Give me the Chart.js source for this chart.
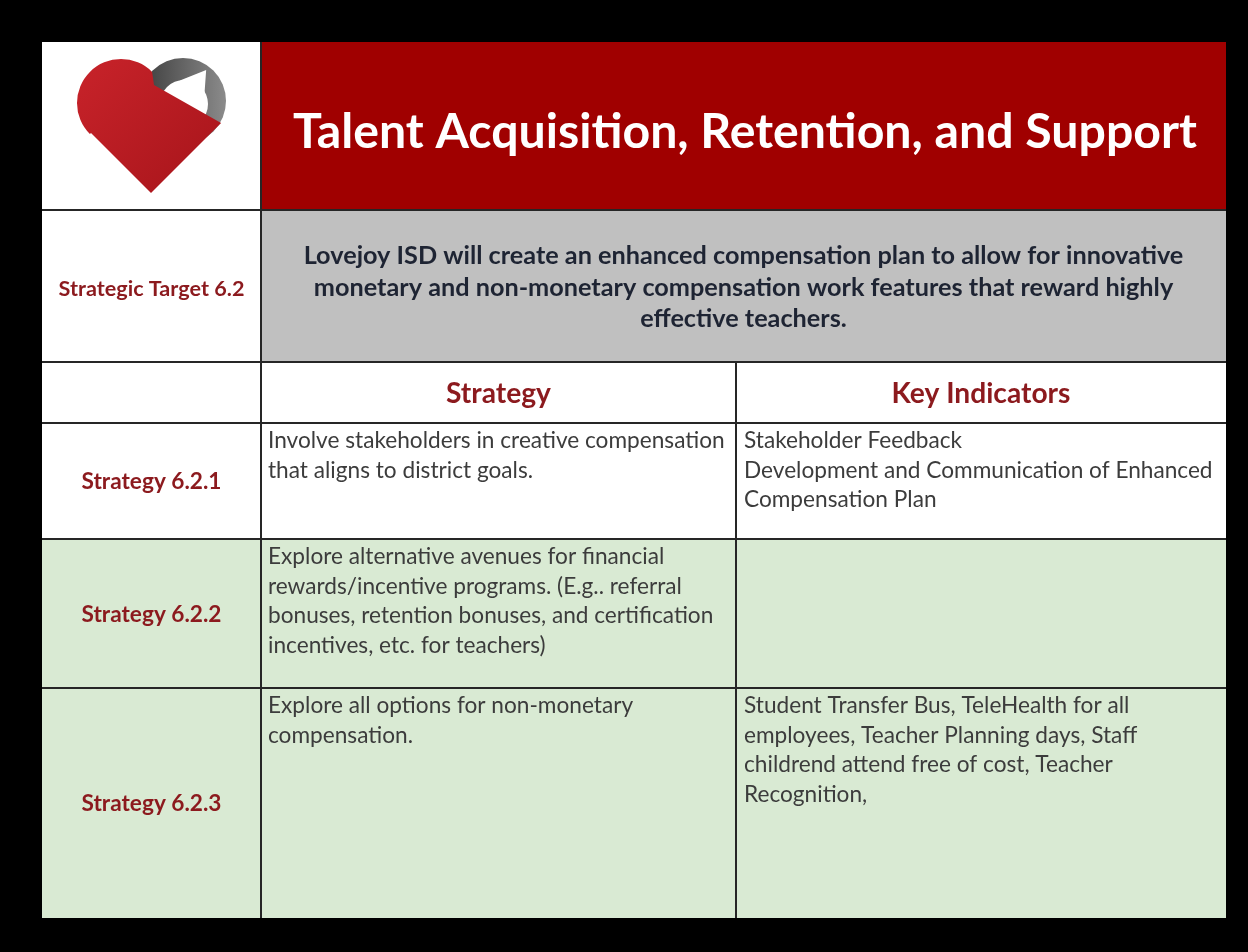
<!DOCTYPE html>
<html>
<head>
<meta charset="utf-8">
<title>Talent Acquisition, Retention, and Support</title>
<script src="https://cdn.jsdelivr.net/npm/chart.js@4.4.1/dist/chart.umd.min.js"></script>
<style>
    html, body { margin: 0; padding: 0; background: #000; }
    #board { display: block; }
</style>
</head>
<body>
<canvas id="board" width="1248" height="952"></canvas>
<script>
// table content
const title = "Talent Acquisition, Retention, and Support";
const targetLabel = "Strategic Target 6.2";
const targetText = [
    "Lovejoy ISD will create an enhanced compensation plan to allow for innovative",
    "monetary and non-monetary compensation work features that reward highly",
    "effective teachers."
];
const columnHeads = ["Strategy", "Key Indicators"];
const strategyIds = ["Strategy 6.2.1", "Strategy 6.2.2", "Strategy 6.2.3"];
const strategyText = [
    ["Involve stakeholders in creative compensation", "that aligns to district goals."],
    ["Explore alternative avenues for financial", "rewards/incentive programs. (E.g.. referral",
     "bonuses, retention bonuses, and certification", "incentives, etc. for teachers)"],
    ["Explore all options for non-monetary", "compensation."]
];
const indicatorText = [
    ["Stakeholder Feedback", "Development and Communication of Enhanced", "Compensation Plan"],
    [],
    ["Student Transfer Bus, TeleHealth for all", "employees, Teacher Planning days, Staff",
     "childrend attend free of cost, Teacher", "Recognition,"]
];

// layout (pixels) and colours
const colEdges = [42, 261, 736, 1226];
const rowEdges = [42, 210, 362, 423, 539, 688, 918];
const strategyFills = ["#ffffff", "#d9ead3", "#d9ead3"];
const RED = "#a00000";
const GREY = "#c0c0c0";
const DARK_RED = "#8c1a1e";
const BODY = "#3c3c3c";
const FONT = "Lato, 'Open Sans', sans-serif";
const LINE = 29.5;

function fitSize(ctx, text, weight, width){
    ctx.font = weight + " 100px " + FONT;
    return 100 * width / ctx.measureText(text).width;
}

function drawLogo(ctx, cx, tipY){
    var d = 60, r = 44;
    var lc = {x: cx - d/2, y: tipY - 1.5*d};
    var rc = {x: cx + d/2 + 2, y: tipY - 1.5*d - 2};

    // grey ring on the right lobe
    var g = ctx.createLinearGradient(rc.x - r, rc.y, rc.x + r, rc.y);
    g.addColorStop(0, "#3c3c3c");
    g.addColorStop(1, "#8c8c8c");
    ctx.fillStyle = g;
    ctx.beginPath();
    ctx.arc(rc.x, rc.y, r - 1, 0, Math.PI*2);
    ctx.fill();
    ctx.fillStyle = "#ffffff";
    ctx.beginPath();
    ctx.arc(rc.x + 1, rc.y + 3, 24, 0, Math.PI*2);
    ctx.fill();

    // white arrow pointing up-right, cutting through the ring
    ctx.save();
    ctx.translate(rc.x + 2, rc.y - 2);
    ctx.rotate(Math.PI/5);
    ctx.beginPath();
    ctx.moveTo(0, -36);
    ctx.lineTo(15, -12);
    ctx.lineTo(6, -12);
    ctx.lineTo(6, 24);
    ctx.lineTo(-6, 24);
    ctx.lineTo(-6, -12);
    ctx.lineTo(-15, -12);
    ctx.closePath();
    ctx.fillStyle = "#ffffff";
    ctx.fill();
    ctx.restore();

    // red body of the heart
    var rg = ctx.createLinearGradient(lc.x - r, lc.y - r, cx + d, tipY);
    rg.addColorStop(0, "#c8232a");
    rg.addColorStop(1, "#a8151b");
    ctx.fillStyle = rg;
    ctx.beginPath();
    ctx.moveTo(cx, tipY);
    ctx.lineTo(cx - d, tipY - d);
    ctx.arc(lc.x, lc.y, r, Math.PI*0.75, Math.PI*1.75);
    ctx.lineTo(cx + 3, tipY - 2*d + 12);
    ctx.lineTo(rc.x + r*Math.cos(Math.PI/6), rc.y + r*Math.sin(Math.PI/6));
    ctx.lineTo(cx + d, tipY - d);
    ctx.closePath();
    ctx.fill();
}

const tablePlugin = {
    id: "strategyTable",
    afterDraw: function(chart){
        var ctx = chart.ctx;
        var x0 = colEdges[0], x1 = colEdges[1], x2 = colEdges[2], x3 = colEdges[3];
        ctx.save();

        // cell fills
        ctx.fillStyle = "#ffffff";
        ctx.fillRect(x0, rowEdges[0], x3 - x0, rowEdges[4] - rowEdges[0]);
        ctx.fillStyle = RED;
        ctx.fillRect(x1, rowEdges[0], x3 - x1, rowEdges[1] - rowEdges[0]);
        ctx.fillStyle = GREY;
        ctx.fillRect(x1, rowEdges[1], x3 - x1, rowEdges[2] - rowEdges[1]);
        for(var i = 0; i < strategyIds.length; i++){
            ctx.fillStyle = strategyFills[i];
            ctx.fillRect(x0, rowEdges[3+i], x3 - x0, rowEdges[4+i] - rowEdges[3+i]);
        }

        // grid lines
        ctx.strokeStyle = "#262626";
        ctx.lineWidth = 2;
        ctx.beginPath();
        for(var j = 1; j < rowEdges.length - 1; j++){
            ctx.moveTo(x0, rowEdges[j]);
            ctx.lineTo(x3, rowEdges[j]);
        }
        ctx.moveTo(x1, rowEdges[0]);
        ctx.lineTo(x1, rowEdges[6]);
        ctx.moveTo(x2, rowEdges[2]);
        ctx.lineTo(x2, rowEdges[6]);
        ctx.stroke();

        drawLogo(ctx, 151, 193);

        // title
        ctx.textBaseline = "alphabetic";
        ctx.textAlign = "center";
        ctx.fillStyle = "#ffffff";
        ctx.font = "bold " + fitSize(ctx, title, "bold", 904) + "px " + FONT;
        ctx.fillText(title, 745, 148);

        // strategic target
        ctx.fillStyle = "#1e2433";
        ctx.font = "bold " + fitSize(ctx, targetText[0], "bold", 880) + "px " + FONT;
        for(var k = 0; k < targetText.length; k++){
            ctx.fillText(targetText[k], (x1 + x3)/2, 264 + k*31.5);
        }
        ctx.fillStyle = DARK_RED;
        ctx.font = "bold " + fitSize(ctx, targetLabel, "bold", 186) + "px " + FONT;
        ctx.fillText(targetLabel, (x0 + x1)/2, 296);

        // column heads
        ctx.font = "bold " + fitSize(ctx, columnHeads[1], "bold", 179) + "px " + FONT;
        ctx.fillText(columnHeads[0], (x1 + x2)/2, 403);
        ctx.fillText(columnHeads[1], (x2 + x3)/2, 403);

        // strategy rows
        var labelFont = "bold " + fitSize(ctx, strategyIds[1], "bold", 140) + "px " + FONT;
        var bodyFont = fitSize(ctx, strategyText[0][0], "normal", 457) + "px " + FONT;
        for(var s = 0; s < strategyIds.length; s++){
            var top = rowEdges[3+s], bottom = rowEdges[4+s];
            ctx.textAlign = "center";
            ctx.fillStyle = DARK_RED;
            ctx.font = labelFont;
            ctx.fillText(strategyIds[s], (x0 + x1)/2, (top + bottom)/2 + 8);

            ctx.textAlign = "left";
            ctx.fillStyle = BODY;
            ctx.font = bodyFont;
            strategyText[s].forEach(function(line, n){
                ctx.fillText(line, x1 + 7, top + 25 + n*LINE);
            });
            indicatorText[s].forEach(function(line, n){
                ctx.fillText(line, x2 + 8, top + 25 + n*LINE);
            });
        }
        ctx.restore();
    }
};

new Chart(document.getElementById("board"), {
    type: "bar",
    data: { labels: [], datasets: [] },
    options: {
        responsive: false,
        animation: false,
        events: [],
        layout: { padding: 0 },
        plugins: { legend: { display: false }, tooltip: { enabled: false } },
        scales: { x: { display: false }, y: { display: false } }
    },
    plugins: [tablePlugin]
});
</script>
</body>
</html>
